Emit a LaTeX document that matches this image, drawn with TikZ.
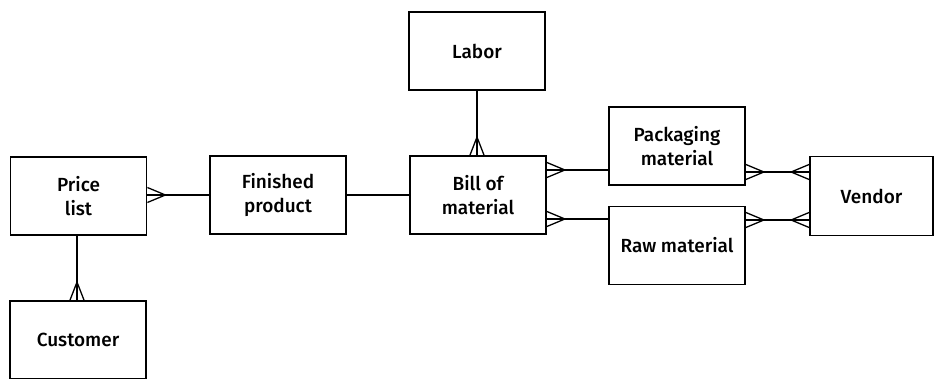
\documentclass[tikz,border=0pt]{standalone}
\usepackage{fontspec}
\setmainfont{Fira Sans Medium}
\begin{document}
\begin{tikzpicture}[x=1pt,y=-1pt,
  ent/.style={draw,line width=1.8pt,minimum width=136pt,minimum height=78pt,
    align=center,inner sep=0pt,font=\fontsize{19}{24}\selectfont},
  rel/.style={line width=1.5pt},
  crow/.style={line width=1.3pt}]
\useasboundingbox (0,0) rectangle (934,379);
\node[ent] (labor) at (477,51) {Labor};
\node[ent] (price) at (78.5,196) {Price\\list};
\node[ent] (fin) at (278,195) {Finished\\product};
\node[ent] (bom) at (478,195) {Bill of\\material};
\node[ent] (pack) at (677,146) {Packaging\\material};
\node[ent] (raw) at (677,245.5) {Raw material};
\node[ent,minimum width=123pt,minimum height=79pt] (vendor) at (871.5,196) {Vendor};
\node[ent,minimum height=78pt] (cust) at (78,340) {Customer};
% coordinates for connectors
\coordinate (pl) at (price.east |- 0,195);
\coordinate (fl) at (fin.west |- 0,195);
\coordinate (bp) at (bom.east |- 0,170);
\coordinate (pp) at (pack.west |- 0,170);
\coordinate (br) at (bom.east |- 0,219);
\coordinate (rr) at (raw.west |- 0,219);
\coordinate (pv) at (pack.east |- 0,172);
\coordinate (vp) at (vendor.west |- 0,172);
\coordinate (rv) at (raw.east |- 0,220);
\coordinate (vr) at (vendor.west |- 0,220);
\coordinate (pc) at (77,0 |- price.south);
\coordinate (cp) at (77,0 |- cust.north);
\coordinate (lb) at (477,0 |- labor.south);
\coordinate (bl) at (477,0 |- bom.north);
\draw[rel] (pl) -- (fl);
\draw[rel] (fin.east) -- (bom.west);
\draw[rel] (bp) -- (pp);
\draw[rel] (br) -- (rr);
\draw[rel] (pv) -- (vp);
\draw[rel] (rv) -- (vr);
\draw[rel] (pc) -- (cp);
\draw[rel] (lb) -- (bl);
% crow's feet
\foreach \c/\dx in {pl/1, bp/1, br/1, pv/1, rv/1, vp/-1, vr/-1}{
  \draw[crow] ([yshift=-7.5pt]\c) -- ([xshift=\dx*18pt]\c) -- ([yshift=7.5pt]\c);
}
\foreach \c in {cp, bl}{
  \draw[crow] ([xshift=-7pt]\c) -- ([yshift=18pt]\c) -- ([xshift=7pt]\c);
}
\end{tikzpicture}
\end{document}
